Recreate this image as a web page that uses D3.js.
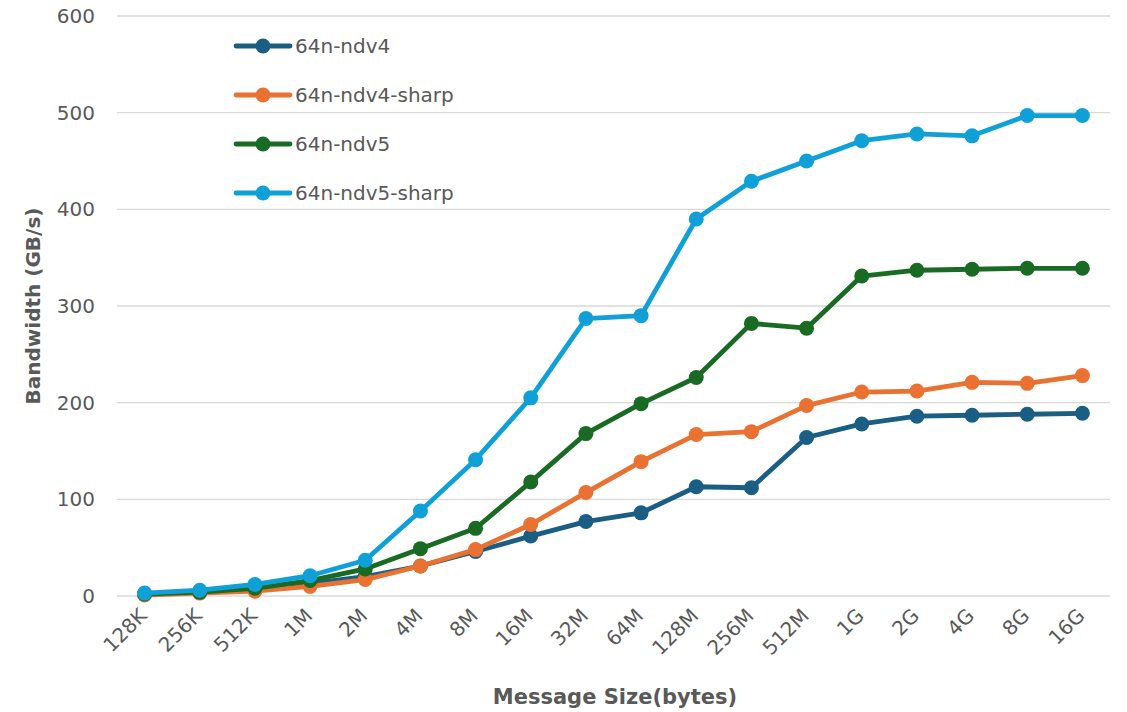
<!DOCTYPE html>
<html>
<head>
<meta charset="utf-8">
<script src="https://cdn.jsdelivr.net/npm/d3@7"></script>
<style>
  body { margin: 0; background: #fff; }
  text { font-family: "DejaVu Sans", "Liberation Sans", sans-serif; fill: #595959; }
</style>
</head>
<body>
<div id="chart"></div>
<script>
const sizes = ['128K', '256K', '512K', '1M', '2M', '4M', '8M', '16M', '32M', '64M',
  '128M', '256M', '512M', '1G', '2G', '4G', '8G', '16G'];

const ndv4 = [2, 4, 7, 13, 20, 31, 46, 62, 77, 86, 113, 112, 164, 178, 186, 187, 188, 189];
const ndv4Sharp = [1, 3, 5, 10, 17, 31, 48, 74, 107, 139, 167, 170, 197, 211, 212, 221, 220, 228];
const ndv5 = [2, 4, 8, 16, 28, 49, 70, 118, 168, 199, 226, 282, 277, 331, 337, 338, 339, 339];
const ndv5Sharp = [3, 6, 12, 21, 37, 88, 141, 205, 287, 290, 390, 429, 450, 471, 478, 476, 497, 497];

const seriesNames = ['64n-ndv4', '64n-ndv4-sharp', '64n-ndv5', '64n-ndv5-sharp'];
const seriesValues = [ndv4, ndv4Sharp, ndv5, ndv5Sharp];
const colors = ['#1a5e84', '#e97132', '#196b24', '#10a0d8'];
const yTicks = [0, 100, 200, 300, 400, 500, 600];

const width = 1127, height = 712;
const margin = {top: 16, right: 17, bottom: 116, left: 117};
const innerW = width - margin.left - margin.right;
const innerH = height - margin.top - margin.bottom;

const svg = d3.select('#chart').append('svg')
  .attr('width', width)
  .attr('height', height);

const chart = svg.append('g')
  .attr('transform', `translate(${margin.left},${margin.top})`);

const x = d3.scalePoint().domain(sizes).range([0, innerW]).padding(0.5);
const y = d3.scaleLinear().domain([0, 600]).range([innerH, 0]);

// gridlines
chart.selectAll('.grid').data(yTicks).enter().append('line')
  .attr('x1', 0).attr('x2', innerW)
  .attr('y1', d => y(d)).attr('y2', d => y(d))
  .attr('stroke', '#d9d9d9').attr('stroke-width', 1.3);

// y axis labels
const yAxis = d3.axisLeft(y).tickValues(yTicks).tickSize(0).tickPadding(22);
const yG = chart.append('g').call(yAxis);
yG.select('.domain').remove();
yG.selectAll('text').style('font-size', '20px').attr('fill', '#595959');

// x axis labels, rotated
const xAxis = d3.axisBottom(x).tickSize(0);
const xG = chart.append('g').attr('transform', `translate(0,${innerH})`).call(xAxis);
xG.select('.domain').remove();
xG.selectAll('text')
  .style('font-size', '20px')
  .attr('fill', '#595959')
  .attr('text-anchor', 'end')
  .attr('dy', null)
  .attr('y', 0)
  .attr('transform', 'translate(3,21) rotate(-45)');

// lines + markers
const line = d3.line()
  .x((d, i) => x(sizes[i]))
  .y(d => y(d));

seriesValues.forEach((vals, s) => {
  const g = chart.append('g');
  g.append('path')
    .datum(vals)
    .attr('fill', 'none')
    .attr('stroke', colors[s])
    .attr('stroke-width', 4.8)
    .attr('stroke-linejoin', 'round')
    .attr('d', line);
  g.selectAll('circle').data(vals).enter().append('circle')
    .attr('cx', (d, i) => x(sizes[i]))
    .attr('cy', d => y(d))
    .attr('r', 7.5)
    .attr('fill', colors[s]);
});

// legend
const legend = svg.append('g').attr('transform', 'translate(236,46)');
seriesNames.forEach((name, i) => {
  const row = legend.append('g').attr('transform', `translate(0,${i * 49})`);
  row.append('line')
    .attr('x1', 0).attr('x2', 54)
    .attr('stroke', colors[i]).attr('stroke-width', 4.8).attr('stroke-linecap', 'round');
  row.append('circle').attr('cx', 27).attr('r', 7.5).attr('fill', colors[i]);
  row.append('text')
    .attr('x', 59).attr('dy', '0.36em')
    .style('font-size', '20px')
    .text(name);
});

// axis titles
svg.append('text')
  .attr('transform', `translate(40,${margin.top + innerH / 2}) rotate(-90)`)
  .attr('text-anchor', 'middle')
  .style('font-size', '20px')
  .style('font-weight', 'bold')
  .text('Bandwidth (GB/s)');

svg.append('text')
  .attr('x', 615)
  .attr('y', 704)
  .attr('text-anchor', 'middle')
  .style('font-size', '21px')
  .style('font-weight', 'bold')
  .text('Message Size(bytes)');
</script>
</body>
</html>
